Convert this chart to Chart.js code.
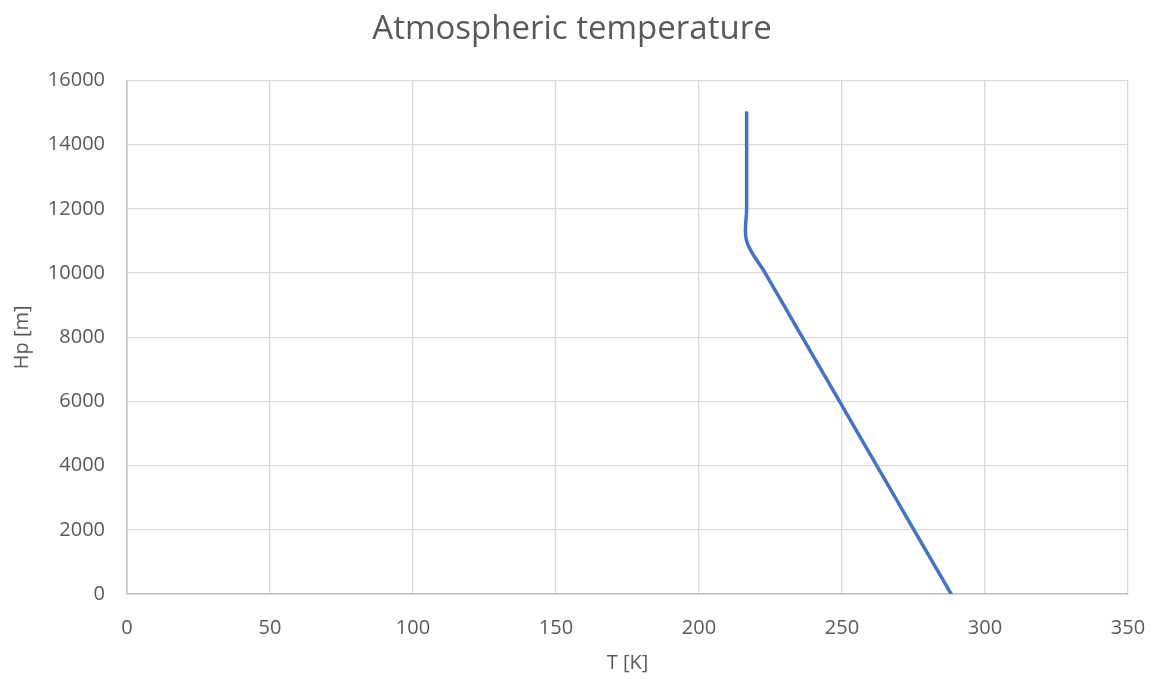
<!DOCTYPE html>
<html>
<head>
<meta charset="utf-8">
<script src="https://cdn.jsdelivr.net/npm/chart.js@4/dist/chart.umd.min.js"></script>
<style>
  html, body { margin: 0; padding: 0; background: #fff; }
  #wrap { width: 1155px; height: 679px; position: relative; }
</style>
</head>
<body>
<div id="wrap"><canvas id="chart"></canvas></div>
<script>
// Pressure altitude [m] and temperature [K]
const altitudes = [0, 1000, 2000, 3000, 4000, 5000, 6000, 7000, 8000, 9000, 10000, 11000, 12000, 13000, 14000, 15000];
const temperatures = [288.15, 281.65, 275.15, 268.65, 262.15, 255.65, 249.15, 242.65, 236.15, 229.65, 223.15, 216.65, 216.65, 216.65, 216.65, 216.65];

const xTicks = [0, 50, 100, 150, 200, 250, 300, 350];
const yTicks = [0, 2000, 4000, 6000, 8000, 10000, 12000, 14000, 16000];

const textColor = '#595959';
const gridColor = '#d9d9d9';
const fontFamily = '"Open Sans", "Liberation Sans", sans-serif';

const points = altitudes.map((h, i) => ({ x: temperatures[i], y: h }));

new Chart(document.getElementById('chart'), {
  type: 'scatter',
  data: {
    datasets: [{
      label: 'T',
      data: points,
      showLine: true,
      borderColor: '#4472C4',
      borderWidth: 3.5,
      pointRadius: 0,
      tension: 0.35,
      borderCapStyle: 'round'
    }]
  },
  options: {
    responsive: true,
    maintainAspectRatio: false,
    animation: false,
    layout: { padding: { top: 0, left: 0, right: 11, bottom: 0 } },
    plugins: {
      legend: { display: false },
      tooltip: { enabled: false },
      title: {
        display: true,
        text: 'Atmospheric temperature',
        color: textColor,
        font: { family: fontFamily, size: 33, weight: 'normal' },
        padding: { top: 10, bottom: 31 }
      }
    },
    scales: {
      x: {
        type: 'linear',
        min: 0,
        max: 350,
        afterBuildTicks: (scale) => { scale.ticks = xTicks.map(v => ({ value: v })); },
        afterFit: (scale) => {
          scale.height = 85;
          scale.paddingLeft = 0;
          scale.paddingRight = 0;
        },
        ticks: { color: textColor, font: { family: fontFamily, size: 20 }, padding: 22, callback: (v) => String(v) },
        grid: { color: gridColor, lineWidth: 1.3, drawTicks: false },
        border: { color: '#bfbfbf', width: 1.5 },
        title: {
          display: true,
          text: 'T [K]',
          color: textColor,
          font: { family: fontFamily, size: 20 },
          padding: { top: 0, bottom: 4 }
        }
      },
      y: {
        type: 'linear',
        min: 0,
        max: 16000,
        afterBuildTicks: (scale) => { scale.ticks = yTicks.map(v => ({ value: v })); },
        afterFit: (scale) => { scale.width = 127; },
        ticks: { color: textColor, font: { family: fontFamily, size: 20 }, padding: 22, callback: (v) => String(v) },
        grid: { color: gridColor, lineWidth: 1.3, drawTicks: false },
        border: { color: '#bfbfbf', width: 1.5 },
        title: {
          display: true,
          text: 'Hp [m]',
          color: textColor,
          font: { family: fontFamily, size: 20 },
          padding: { top: 10, bottom: 0 }
        }
      },
      // empty right-hand spacer so the plot ends where the reference does
      spacer: {
        type: 'linear',
        position: 'right',
        min: 0,
        max: 1,
        ticks: { display: false },
        grid: { display: false, drawTicks: false },
        border: { display: false },
        afterFit: (scale) => { scale.width = 16; }
      }
    }
  }
});
</script>
</body>
</html>
